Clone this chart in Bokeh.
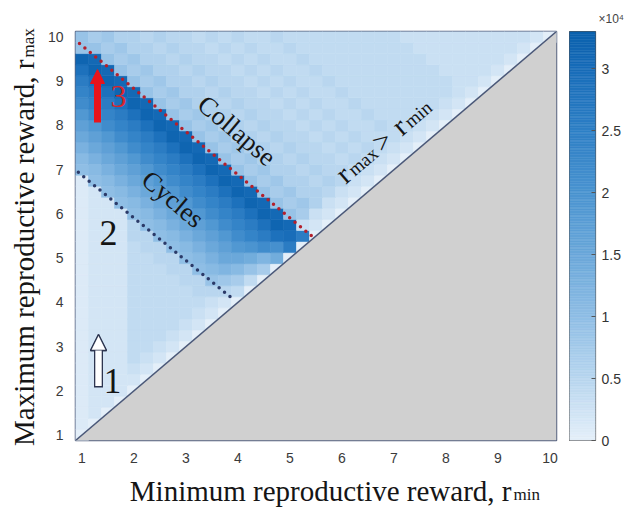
import math
from bokeh.plotting import figure
from bokeh.layouts import row, column
from bokeh.models import (ColumnDataSource, LinearColorMapper, FixedTicker,
                          CustomJSTickFormatter, Label, Arrow, NormalHead, Range1d, Title)
from bokeh.embed import file_html
from bokeh.resources import INLINE

# ---------------- data ----------------
# grid of reproductive rewards (rmin along x, rmax along y), step 0.25
r_grid = [round(1 + 0.25 * n, 2) for n in range(37)]
x_ticks = [1, 2, 3, 4, 5, 6, 7, 8, 9, 10]
y_ticks = [1, 2, 3, 4, 5, 6, 7, 8, 9, 10]
cbar_ticks = [0, 0.5, 1, 1.5, 2, 2.5, 3]
cbar_max = 3.3  # x 10^4

# cell values in units of 10^3; row j -> rmax = r_grid[j], entry i -> rmin = r_grid[i]
cell_values = [
    [0],
    [1, 0],
    [1, 2, 0],
    [1, 2, 2, 0],
    [1, 2, 2, 2, 0],
    [1, 2, 2, 2, 2, 0],
    [1, 2, 2, 2, 3, 2, 0],
    [1, 2, 2, 2, 4, 3, 2, 0],
    [1, 2, 2, 2, 4, 4, 3, 2, 0],
    [1, 2, 2, 2, 4, 4, 4, 3, 2, 0],
    [1, 2, 2, 2, 4, 4, 4, 4, 3, 2, 0],
    [1, 2, 2, 2, 4, 4, 4, 4, 4, 3, 2, 0],
    [1, 2, 2, 2, 4, 4, 4, 4, 4, 4, 3, 2, 0],
    [1, 2, 2, 2, 4, 4, 4, 4, 4, 5, 5, 5, 4, 0],
    [1, 2, 2, 2, 4, 4, 4, 4, 5, 5, 9, 8, 7, 4, 0],
    [1, 2, 2, 2, 4, 4, 4, 5, 5, 10, 11, 12, 11, 9, 7, 0],
    [1, 2, 2, 2, 4, 4, 5, 5, 10, 11, 13, 15, 15, 14, 12, 14, 0],
    [1, 2, 2, 2, 4, 5, 5, 10, 11, 13, 15, 17, 19, 20, 22, 21, 26, 0],
    [1, 2, 2, 2, 5, 5, 10, 11, 13, 15, 17, 19, 22, 24, 26, 29, 30, 26, 0],
    [1, 2, 2, 2, 5, 10, 11, 13, 15, 17, 19, 22, 24, 26, 29, 32, 31, 3, 2, 0],
    [1, 2, 2, 2, 10, 11, 13, 15, 17, 19, 22, 24, 26, 29, 32, 31, 9, 7, 3, 2, 0],
    [1, 2, 2, 10, 11, 13, 15, 17, 19, 22, 24, 26, 29, 32, 31, 9, 7, 8, 6, 3, 2, 0],
    [1, 2, 10, 11, 13, 15, 17, 19, 22, 24, 26, 29, 32, 31, 9, 7, 8, 6, 6, 5, 3, 2, 0],
    [1, 10, 11, 13, 15, 17, 19, 22, 24, 26, 29, 32, 31, 9, 7, 8, 6, 6, 5, 6, 5, 3, 2, 0],
    [10, 11, 13, 15, 17, 19, 22, 24, 26, 29, 32, 31, 9, 7, 8, 6, 6, 5, 6, 5, 5, 4, 3, 2, 0],
    [11, 13, 15, 17, 19, 22, 24, 26, 29, 32, 31, 9, 7, 8, 6, 6, 5, 6, 5, 5, 4, 5, 4, 3, 2, 0],
    [13, 15, 17, 19, 22, 24, 26, 29, 32, 31, 9, 7, 8, 6, 6, 5, 6, 5, 5, 4, 5, 4, 5, 4, 3, 2, 0],
    [15, 17, 19, 22, 24, 26, 29, 32, 31, 9, 7, 8, 6, 6, 5, 6, 5, 5, 4, 5, 4, 5, 4, 4, 4, 3, 2, 0],
    [17, 19, 22, 24, 26, 29, 32, 31, 9, 7, 8, 6, 6, 5, 6, 5, 5, 4, 5, 4, 5, 4, 4, 5, 4, 4, 3, 2, 0],
    [19, 22, 24, 26, 29, 32, 31, 9, 7, 8, 6, 6, 5, 6, 5, 5, 4, 5, 4, 5, 4, 4, 5, 4, 4, 4, 4, 3, 2, 0],
    [22, 24, 26, 29, 32, 31, 9, 7, 8, 6, 6, 5, 6, 5, 5, 4, 5, 4, 5, 4, 4, 5, 4, 4, 4, 4, 4, 4, 3, 2, 0],
    [24, 26, 29, 32, 31, 9, 7, 8, 6, 6, 5, 6, 5, 5, 4, 5, 4, 5, 4, 4, 5, 4, 4, 4, 4, 4, 4, 4, 4, 3, 2, 0],
    [26, 29, 32, 31, 9, 7, 8, 6, 6, 5, 6, 5, 5, 4, 5, 4, 5, 4, 4, 5, 4, 4, 4, 4, 4, 4, 4, 4, 4, 3, 3, 2, 0],
    [29, 32, 31, 9, 7, 8, 6, 6, 5, 6, 5, 5, 4, 5, 4, 5, 4, 4, 5, 4, 4, 4, 4, 4, 4, 4, 4, 4, 3, 3, 3, 3, 2, 0],
    [32, 31, 9, 7, 8, 6, 6, 5, 6, 5, 5, 4, 5, 4, 5, 4, 4, 5, 4, 4, 4, 4, 4, 4, 4, 4, 4, 3, 3, 3, 3, 3, 3, 2, 0],
    [9, 9, 7, 8, 6, 6, 5, 6, 5, 5, 4, 5, 4, 5, 4, 4, 5, 4, 4, 4, 4, 4, 4, 4, 4, 4, 3, 3, 3, 3, 3, 3, 3, 3, 2, 0],
    [9, 7, 8, 6, 6, 5, 6, 5, 5, 4, 5, 4, 5, 4, 4, 5, 4, 4, 4, 4, 4, 4, 4, 4, 4, 3, 3, 3, 3, 3, 3, 3, 3, 3, 3, 2, 0],
]

# ---------------- styling ----------------
cmap_anchors = [(0.0, "#e4eff9"), (0.5, "#b8d6ef"), (1.0, "#8fbee5"), (1.5, "#6ba8da"),
                (2.0, "#4b94d0"), (2.5, "#2f80c6"), (3.0, "#196db9"), (3.3, "#0b61ad")]


def hex2rgb(h):
    return tuple(int(h[k:k + 2], 16) for k in (1, 3, 5))


def build_palette(n=256):
    pal = []
    for m in range(n):
        v = cbar_max * m / (n - 1)
        for (v0, c0), (v1, c1) in zip(cmap_anchors[:-1], cmap_anchors[1:]):
            if v0 <= v <= v1:
                t = (v - v0) / (v1 - v0)
                a, b = hex2rgb(c0), hex2rgb(c1)
                pal.append("#%02x%02x%02x" % tuple(round(a[q] + (b[q] - a[q]) * t) for q in range(3)))
                break
    return pal


PALETTE = build_palette()
LO, HI = 0.875, 10.125
FL, FT, FW, FH = 75, 31, 481, 409   # frame position on the page (px)
LEFT_W = 44                         # width of the y-title strip
BOTTOM_BORDER = 33                  # room for the x tick labels
TOTAL_H = 508
BOT_H = TOTAL_H - FT - FH - BOTTOM_BORDER   # x-title strip
CB_GAP, CB_W, CB_LAB = 13, 26, 30
MID = 0.3375                        # box middle above the baseline, in em


def dx(px):
    return LO + (px - FL) * (HI - LO) / FW


def dy(py):
    return LO + (FT + FH - py) * (HI - LO) / FH


SERIF = "Liberation Serif"
SANS = "Liberation Sans"
INK = "#151515"


def strip(w, h):
    f = figure(frame_width=w, frame_height=h, x_range=Range1d(0, w), y_range=Range1d(0, h),
               x_axis_type=None, y_axis_type=None, output_backend="svg", toolbar_location=None,
               min_border=0, outline_line_color=None)
    f.background_fill_color = "white"
    f.border_fill_color = "white"
    f.grid.visible = False
    return f


# ---------------- main heat map ----------------
xs, ys, vs = [], [], []
for j, row_vals in enumerate(cell_values):
    for i, v in enumerate(row_vals):
        xs.append(r_grid[i])
        ys.append(r_grid[j])
        vs.append(v / 10.0)
src = ColumnDataSource(dict(x=xs, y=ys, v=vs))

mapper = LinearColorMapper(palette=PALETTE, low=0, high=cbar_max)

p = figure(frame_width=FW, frame_height=FH, x_range=Range1d(LO, HI), y_range=Range1d(LO, HI),
           output_backend="svg", toolbar_location=None,
           min_border_left=FL - LEFT_W, min_border_top=FT,
           min_border_bottom=BOTTOM_BORDER, min_border_right=CB_GAP)
p.background_fill_color = "white"
p.border_fill_color = "white"
p.grid.visible = False
p.outline_line_color = "#56627f"
p.outline_line_width = 1.5

p.rect(x="x", y="y", width=0.25, height=0.25, source=src,
       fill_color={"field": "v", "transform": mapper},
       line_color={"field": "v", "transform": mapper}, line_width=0.6)

# region rmax < rmin
p.patch([LO, HI, HI], [LO, HI, LO], fill_color="#d0d0d0", line_color=None)
p.line([LO, HI], [LO, HI], line_color="#4a5878", line_width=1.5)

for ax, ticks in ((p.xaxis, x_ticks), (p.yaxis, y_ticks)):
    ax.ticker = FixedTicker(ticks=ticks)
    ax.major_tick_line_color = None
    ax.minor_tick_line_color = None
    ax.major_tick_out = 0
    ax.major_tick_in = 0
    ax.axis_line_color = None
    ax.major_label_text_font = SANS
    ax.major_label_text_font_size = "14px"
    ax.major_label_text_color = "#3a3a3a"
    ax.major_label_standoff = 12

# dotted boundaries
p.add_layout(Arrow(end=None, x_start=dx(79), y_start=dy(43), x_end=dx(313), y_end=dy(237),
                   line_color="#b3202c", line_width=3.5, line_dash="0 7", line_cap="round"))
p.add_layout(Arrow(end=None, x_start=dx(67), y_start=dy(163), x_end=dx(233), y_end=dy(299),
                   line_color="#2b3a68", line_width=3.5, line_dash="0 7", line_cap="round"))

theta = math.atan2(FH, FW)
p.add_layout(Label(x=dx(236.5), y=dy(130), text="Collapse", text_font=SERIF,
                   text_font_size="26.5px", text_color=INK, text_align="center",
                   text_baseline="middle", angle=-theta))
p.add_layout(Label(x=dx(172.5), y=dy(198.5), text="Cycles", text_font=SERIF,
                   text_font_size="26.5px", text_color=INK, text_align="center",
                   text_baseline="middle", angle=-theta))

# rmax > rmin along the diagonal: (text, font px, distance of its start along the line)
pieces = [("r", 29, 0), ("max", 19, 12), (">", 29, 48), ("r", 29, 74), ("min", 19, 86)]
ux, uy = math.cos(theta), math.sin(theta)
for txt, fs, s in pieces:
    lift = MID * fs
    p.add_layout(Label(x=dx(345), y=dy(184), x_offset=s * ux - lift * uy,
                       y_offset=s * uy + lift * ux, text=txt, text_font=SERIF,
                       text_font_size="%dpx" % fs, text_color=INK, text_align="left",
                       text_baseline="middle", angle=theta))

# numbered markers
p.add_layout(Label(x=dx(108), y=dy(232.5), text="2", text_font=SERIF, text_font_size="36px",
                   text_color=INK, text_align="center", text_baseline="middle"))
p.add_layout(Label(x=dx(112), y=dy(380), text="1", text_font=SERIF, text_font_size="35px",
                   text_color=INK, text_align="center", text_baseline="middle"))
p.add_layout(Label(x=dx(118), y=dy(96), text="3", text_font=SERIF, text_font_size="32px",
                   text_color="#d9262b", text_align="center", text_baseline="middle"))

RED = "#e8141c"
p.add_layout(Arrow(end=NormalHead(size=14, fill_color=RED, line_color=RED, line_width=1),
                   x_start=dx(97), y_start=dy(122), x_end=dx(97), y_end=dy(69),
                   line_color=RED, line_width=7))
DARK = "#2d3550"
p.add_layout(Arrow(end=NormalHead(size=16, fill_color="white", line_color=DARK, line_width=1.3),
                   x_start=dx(98), y_start=dy(387), x_end=dx(98), y_end=dy(334),
                   line_color=DARK, line_width=9))
p.add_layout(Arrow(end=NormalHead(size=16, fill_color="white", line_color=DARK, line_width=1.3),
                   x_start=dx(98), y_start=dy(385.6), x_end=dx(98), y_end=dy(334),
                   line_color="white", line_width=6.4))

# ---------------- colour bar (own small plot with a right axis) ----------------
pc = figure(frame_width=CB_W, frame_height=FH, x_range=Range1d(0, 1), y_range=Range1d(0, cbar_max),
            x_axis_type=None, y_axis_location="right", output_backend="svg",
            toolbar_location=None, min_border_left=0, min_border_right=CB_LAB,
            min_border_top=FT, min_border_bottom=BOTTOM_BORDER)
pc.background_fill_color = "white"
pc.border_fill_color = "white"
pc.grid.visible = False
levels = [cbar_max * m / len(PALETTE) for m in range(len(PALETTE) + 1)]
pc.quad(left=0, right=1, bottom=levels[:-1], top=levels[1:], fill_color=PALETTE,
        line_color=PALETTE, line_width=0.5)
pc.outline_line_color = "#555555"
pc.outline_line_width = 1.2
pc.yaxis.ticker = FixedTicker(ticks=cbar_ticks)
pc.yaxis.formatter = CustomJSTickFormatter(code="return String(tick)")
pc.yaxis.axis_line_color = None
pc.yaxis.major_tick_line_color = "#555555"
pc.yaxis.major_tick_in = 4
pc.yaxis.major_tick_out = 0
pc.yaxis.minor_tick_line_color = None
pc.yaxis.major_label_text_font = SANS
pc.yaxis.major_label_text_font_size = "14px"
pc.yaxis.major_label_text_color = "#333333"
pc.yaxis.major_label_standoff = 6
# the "x 10^4" multiplier above the bar
pc.add_layout(Title(text="×10⁴", align="left", offset=29, standoff=12, text_font=SANS,
                    text_font_size="12px", text_font_style="normal", text_color="#444444"),
              "above")

RIGHT_W = (FL - LEFT_W) + FW + CB_GAP + CB_W + CB_LAB
X0 = LEFT_W      # page x of the right-hand column

# ---------------- strips holding the axis titles ----------------
X_BASE = 500   # page y of the x-title baseline
pxt = strip(RIGHT_W, BOT_H)
pxt.add_layout(Label(x=511 - X0, y=TOTAL_H - (X_BASE - MID * 29),
                     text="Minimum reproductive reward, r", text_font=SERIF,
                     text_font_size="29px", text_color=INK, text_align="right",
                     text_baseline="middle"))
pxt.add_layout(Label(x=513 - X0, y=TOTAL_H - (X_BASE - MID * 17), text="min", text_font=SERIF,
                     text_font_size="17px", text_color=INK, text_align="left",
                     text_baseline="middle"))

Y_BASE = 33.5  # page x of the y-title baseline
pyt = strip(LEFT_W, TOTAL_H)
pyt.add_layout(Label(x=Y_BASE - MID * 29, y=TOTAL_H - 59, text="Maximum reproductive reward, r",
                     text_font=SERIF, text_font_size="29px", text_color=INK, text_align="right",
                     text_baseline="middle", angle=math.pi / 2))
pyt.add_layout(Label(x=Y_BASE - MID * 17, y=TOTAL_H - 57, text="max", text_font=SERIF,
                     text_font_size="17px", text_color=INK, text_align="left",
                     text_baseline="middle", angle=math.pi / 2))

layout = row(pyt, column(row(p, pc), pxt))
open("out.html", "w").write(file_html(layout, INLINE))
